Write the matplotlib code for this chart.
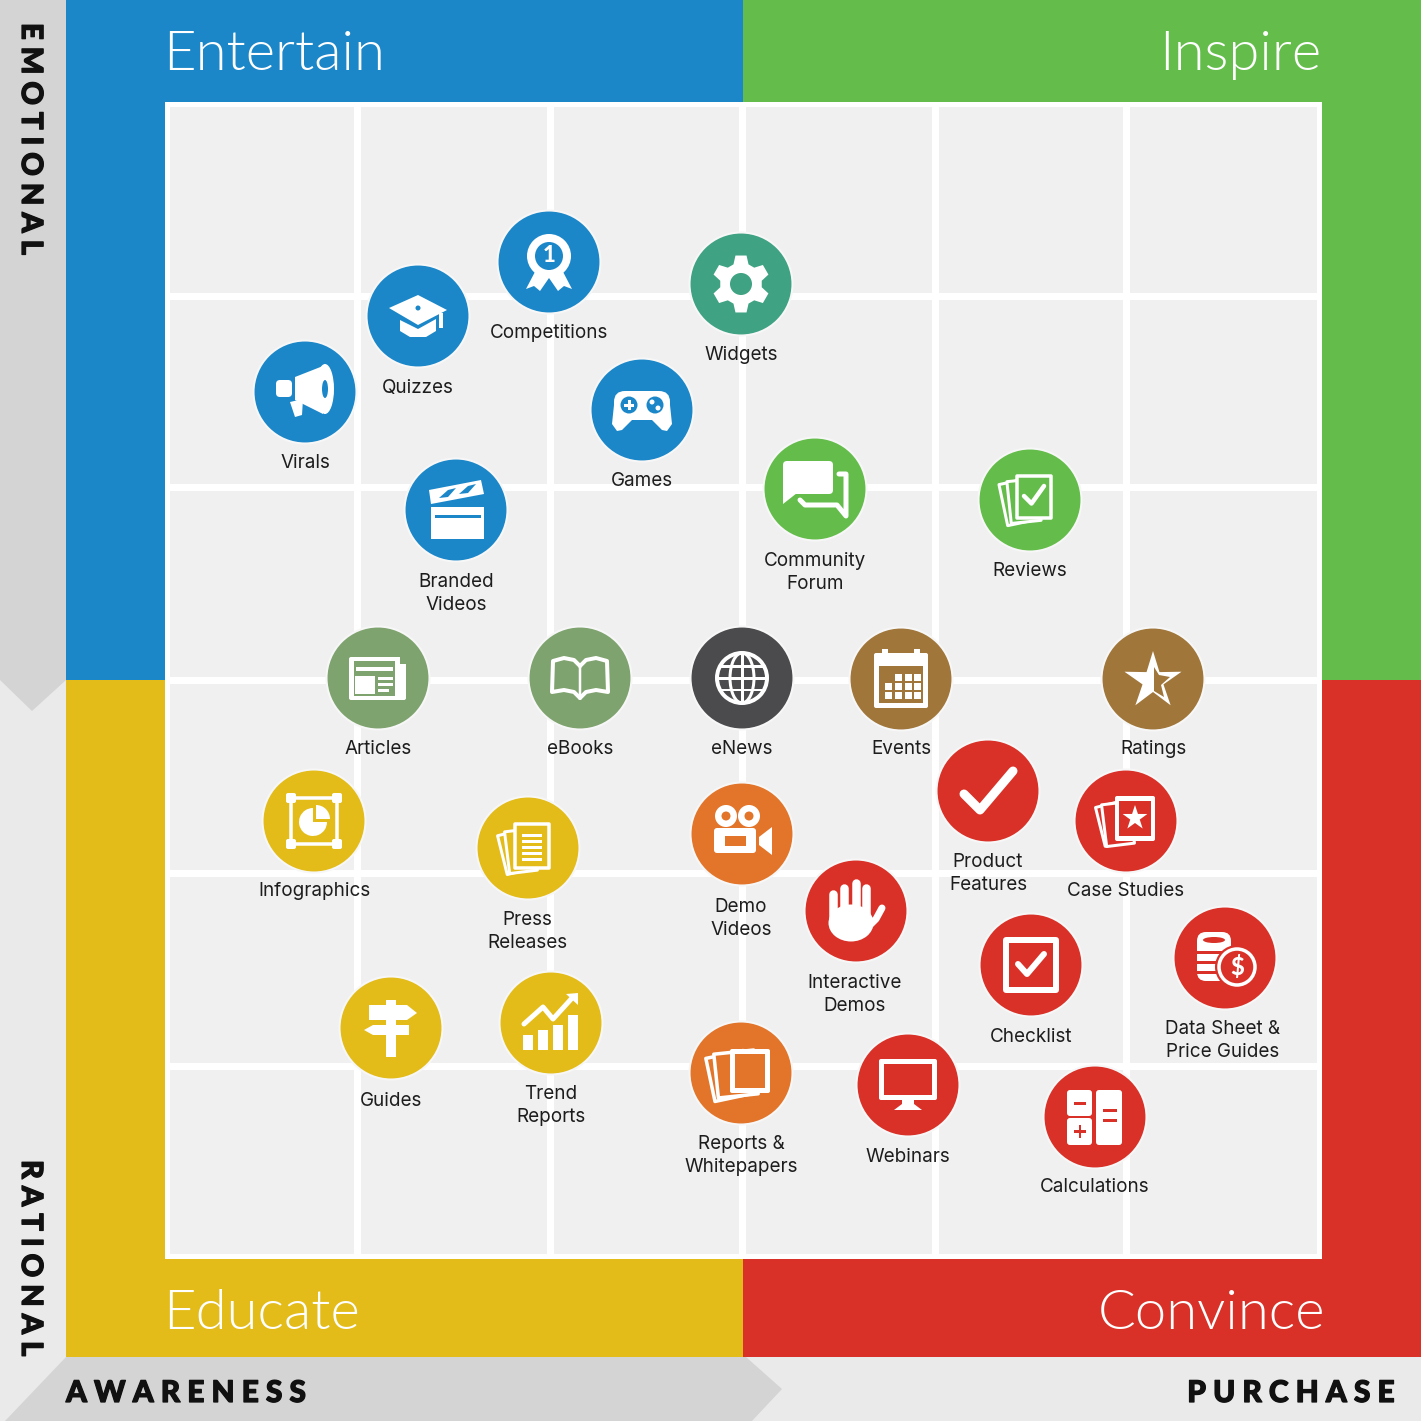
import numpy as np
import matplotlib
matplotlib.use("Agg")
import matplotlib.pyplot as plt
import matplotlib.patheffects as pe
from matplotlib.patches import Circle, Polygon, Rectangle, Ellipse, FancyBboxPatch, Wedge

plt.rcParams['font.family'] = ['Lato', 'DejaVu Sans']

# ---- data ----
names = ["Virals", "Quizzes", "Competitions", "Widgets", "Games", "Branded\nVideos",
         "Community\nForum", "Reviews", "Articles", "eBooks", "eNews", "Events", "Ratings",
         "Infographics", "Press\nReleases", "Demo\nVideos", "Product\nFeatures", "Case Studies",
         "Interactive\nDemos", "Checklist", "Data Sheet &\nPrice Guides", "Guides",
         "Trend\nReports", "Reports &\nWhitepapers", "Webinars", "Calculations"]
awareness_x = [305, 418, 549, 741, 642, 456, 815, 1030, 378, 580, 742, 901, 1153,
               314, 528, 742, 988, 1126, 856, 1031, 1225, 391, 551, 741, 908, 1095]
emotion_y = [392, 316, 262, 284, 410, 510, 489, 500, 678, 678, 678, 679, 679,
             821, 848, 834, 791, 821, 911, 965, 958, 1028, 1023, 1073, 1085, 1117]
label_x = [305, 418, 549, 741, 642, 456, 815, 1030, 378, 580, 742, 901, 1153,
           314, 527, 741, 988, 1126, 855, 1031, 1223, 391, 551, 741, 908, 1095]
label_y = [461, 386, 332, 353, 479, 592, 571, 569, 747, 747, 747, 747, 747,
           890, 930, 917, 872, 890, 993, 1036, 1039, 1099, 1104, 1154, 1155, 1185]
groups = ["blue", "blue", "blue", "teal", "blue", "blue", "green", "green", "olive", "olive", "dark",
          "brown", "brown", "yellow", "yellow", "orange", "red", "red", "red", "red", "red",
          "yellow", "yellow", "orange", "red", "red"]
palette = dict(blue="#1b87c9", teal="#3fa283", green="#64bd4a", olive="#7fa36f", dark="#4b4b4d",
               brown="#a0763a", yellow="#e3bc19", orange="#e2752a", red="#d93128")
quadrants = ["Entertain", "Inspire", "Educate", "Convince"]
grid_x = [357, 550, 742, 935, 1126]
grid_y = [296, 487, 680, 873, 1066]

W = "white"
fig = plt.figure(figsize=(14.21, 14.21), dpi=100)
ax = fig.add_axes([0, 0, 1, 1])
ax.set_xlim(0, 1421)
ax.set_ylim(1421, 0)
ax.axis("off")
px = 0.72


def rect(x0, y0, x1, y1, c=W, **k):
    ax.add_patch(Rectangle((x0, y0), x1 - x0, y1 - y0, fc=c, ec="none", **k))


def poly(pts, c=W):
    ax.add_patch(Polygon(pts, closed=True, fc=c, ec="none"))


# ---- background ----
rect(0, 0, 1421, 1421, "#eaeaea")
poly([(0, 0), (66, 0), (66, 680), (32, 711), (0, 680)], "#d4d4d4")
poly([(66, 1357), (746, 1357), (782, 1389), (752, 1421), (5, 1421)], "#d4d4d4")
rect(66, 0, 743, 680, palette["blue"])
rect(743, 0, 1421, 680, palette["green"])
rect(66, 680, 743, 1357, palette["yellow"])
rect(743, 680, 1421, 1357, palette["red"])
rect(165, 102, 1322, 1259, W)
rect(170, 107, 1317, 1254, "#f0f0f0")
for g in grid_x:
    rect(g - 3.5, 105, g + 3.5, 1256, W)
for g in grid_y:
    rect(168, g - 3.5, 1319, g + 3.5, W)

# ---- text frame ----
title_kw = dict(color=W, fontsize=40.5, fontweight=300, va="center")
ax.text(163, 55, quadrants[0], ha="left", **title_kw)
ax.text(1321, 55, quadrants[1], ha="right", **title_kw)
ax.text(163, 1314, quadrants[2], ha="left", **title_kw)
ax.text(1325, 1314, quadrants[3], ha="right", **title_kw)
bold = [pe.withStroke(linewidth=0.9, foreground="#111111")]
side = dict(color="#111111", fontweight="black", path_effects=bold)
ax.text(66, 1393, "A W A R E N E S S", ha="left", va="center", fontsize=21.5, **side)
ax.text(1395, 1393, "P U R C H A S E", ha="right", va="center", fontsize=21.5, **side)
ax.text(30, 23, "E M O T I O N A L", rotation=270, ha="center", va="top", fontsize=21, **side)
ax.text(30, 1160, "R A T I O N A L", rotation=270, ha="center", va="top", fontsize=21, **side)


# ---- icon helpers (local coordinates around bubble centre) ----
class I:
    def __init__(s, x, y, c):
        s.x, s.y, s.c = x, y, c

    def t(s, pts):
        return [(s.x + a, s.y + b) for a, b in pts]

    def p(s, pts, c=W):
        poly(s.t(pts), c)

    def l(s, pts, w=3, c=W, closed=False):
        ax.add_patch(Polygon(s.t(pts), closed=closed, fill=False, ec=c, lw=w * px,
                             joinstyle="round", capstyle="round"))

    def r(s, x0, y0, x1, y1, c=W):
        rect(s.x + x0, s.y + y0, s.x + x1, s.y + y1, c)

    def rr(s, x0, y0, x1, y1, rad=3, c=W, ec="none", w=0):
        ax.add_patch(FancyBboxPatch((s.x + x0 + rad, s.y + y0 + rad), x1 - x0 - 2 * rad, y1 - y0 - 2 * rad,
                                    boxstyle=f"round,pad={rad}", fc=c, ec=ec, lw=w * px))

    def o(s, a, b, r_, c=W):
        ax.add_patch(Circle((s.x + a, s.y + b), r_, fc=c, ec="none"))

    def ring(s, a, b, r_, w=3, c=W):
        ax.add_patch(Circle((s.x + a, s.y + b), r_, fill=False, ec=c, lw=w * px))

    def e(s, a, b, rx, ry, c=W, ec="none", w=0, fill=True):
        ax.add_patch(Ellipse((s.x + a, s.y + b), 2 * rx, 2 * ry, fc=c if fill else "none", ec=ec, lw=w * px))

    def card(s, a, b, hw, hh, deg, fc, w=3):
        th = np.radians(deg)
        R = np.array([[np.cos(th), -np.sin(th)], [np.sin(th), np.cos(th)]])
        pts = (R @ np.array([[-hw, -hh], [hw, -hh], [hw, hh], [-hw, hh]]).T).T + [a, b]
        ax.add_patch(Polygon(s.t(pts.tolist()), closed=True, fc=fc, ec=W, lw=w * px, joinstyle="round"))

    def star(s, a, b, R1, R2, c=W):
        ang = np.radians(np.arange(10) * 36 - 90)
        rad = np.where(np.arange(10) % 2 == 0, R1, R2)
        s.p(list(zip(a + rad * np.cos(ang), b + rad * np.sin(ang))), c)


def virals(i):
    i.rr(-29, -12, -13, 5, 4)
    i.p([(-10, -15), (18, -26), (18, 22), (-10, 8)])
    i.e(20, -3, 9, 25)
    i.e(20, -3, 3, 9, i.c)
    i.p([(-15, 10), (-2, 7), (-3, 23), (-10, 25)])


def quizzes(i):
    i.p([(-29, -8), (0, -21), (29, -6), (0, 9)])
    i.o(0, -8, 2.5, i.c)
    i.p([(-18, 4), (0, 13), (18, 3), (18, 15), (8, 21), (-8, 21), (-18, 15)])
    i.r(21, -3, 25, 12)


def competitions(i):
    i.p([(-12, 6), (-23, 27), (-15, 24), (-9, 29), (0, 16), (9, 29), (15, 24), (23, 27), (12, 6)])
    i.o(0, -6, 22)
    i.o(0, -6, 14, i.c)
    ax.text(i.x, i.y - 6, "1", color=W, fontsize=16, fontweight="black", ha="center", va="center")


def widgets(i):
    pts = []
    for k in range(6):
        m = -90 + 60 * k
        for d, rad in ((-21, 21), (-11, 29), (11, 29), (21, 21)):
            a = np.radians(m + d)
            pts.append((rad * np.cos(a), rad * np.sin(a)))
    i.p(pts)
    i.o(0, 0, 11, i.c)


def games(i):
    i.rr(-28, -19, 28, 8, 11)
    i.p([(-28, -5), (-30, 14), (-25, 21), (-20, 20), (-10, 10), (10, 10), (20, 20), (25, 21), (30, 14), (28, -5)])
    for a in (-13, 13):
        i.o(a, -5, 8.5, i.c)
    i.r(-18, -6.5, -8, -3.5)
    i.r(-14.5, -10, -11.5, 0)
    i.o(10, -8, 2.5)
    i.o(16, -2, 2.5)


def branded(i):
    i.p([(-27, -20), (25, -30), (28, -16), (-25, -6)])
    for a, b in ((-17, -12), (3, -16)):
        i.p([(a, b), (a + 9, b - 8), (a + 17, b - 10), (a + 9, b - 1)], i.c)
    i.r(-25, -3, 28, 29)
    i.r(-21, 5, 25, 8, i.c)


def community(i):
    i.l([(24, -15), (31, -15), (31, 27), (22, 16), (-10, 16), (-15, 11)], 5)
    i.rr(-32, -28, 18, 5, 4)
    i.p([(-32, 0), (-32, 15), (-18, 4)])


def check(i, a, b, k, w):
    i.l([(a - k, b), (a - k * .25, b + k * .75), (a + k, b - k)], w)


def reviews(i):
    i.card(-12, 2, 15, 21, -12, i.c)
    i.card(-6, 1, 15, 21, -6, i.c)
    i.card(4, -3, 17, 21, 0, i.c, 3.5)
    check(i, 4, -4, 10, 4.5)


def articles(i):
    i.rr(-29, -21, 28, 22, 2)
    i.r(22, -22, 29, -14, i.c)
    i.r(-24, -17, 17, 18, i.c)
    i.r(-22, -11, 15, -7)
    i.r(-23, -2, -3, 16)
    i.r(0, -1, 15, 2)
    i.r(0, 5, 15, 8)
    i.r(0, 11, 11, 14)


def ebooks(i):
    i.l([(0, -12), (-6, -18), (-16, -20), (-27, -17), (-28, 14), (-16, 12), (-6, 14), (0, 20)], 4)
    i.l([(0, -12), (6, -18), (16, -20), (27, -17), (28, 14), (16, 12), (6, 14), (0, 20)], 4)
    i.l([(0, -12), (0, 20)], 2.5)


def enews(i):
    i.ring(0, 0, 25, 4)
    i.e(0, 0, 12, 25, ec=W, w=3, fill=False)
    i.r(-1.5, -25, 1.5, 25)
    i.r(-25, -1.5, 25, 1.5)
    i.r(-22, -13, 22, -10.5)
    i.r(-22, 10.5, 22, 13)


def events(i):
    i.rr(-27, -26, 27, 29, 2)
    i.r(-22, -13, 22, 24, i.c)
    i.r(-19, -30, -13, -20)
    i.r(13, -30, 19, -20)
    for a in (-16, -6, 4, 13):
        for b in (-5, 4, 13):
            if not (a == -16 and b == -5):
                i.r(a, b, a + 6.5, b + 6.5)


def ratings(i):
    i.star(0, 2, 30, 11)
    i.p([(1, -12), (1, 12), (11, 18), (8, 6), (17, -2), (6, -4)], i.c)


def infographics(i):
    i.l([(-23, -23), (23, -23), (23, 23), (-23, 23)], 3.5, closed=True)
    for a in (-23, 23):
        for b in (-23, 23):
            i.rr(a - 5, b - 5, a + 5, b + 5, 2)
    ax.add_patch(Wedge((i.x - 1, i.y + 1), 14, 0, 270, fc=W, ec="none"))
    ax.add_patch(Wedge((i.x + 2, i.y - 2), 14, 270, 360, fc=W, ec="none"))


def press(i):
    i.card(-13, 4, 13, 20, -14, i.c)
    i.card(-7, 3, 14, 21, -7, i.c)
    i.card(4, -2, 17, 22, 0, i.c, 3.5)
    for b in (-14, -8, -2, 4, 10):
        i.r(-6, b, 14, b + 2.5)


def demo(i):
    i.rr(-28, -6, 14, 19, 3)
    i.o(-16, -18, 11)
    i.o(7, -18, 11)
    i.o(-16, -18, 4.5, i.c)
    i.o(7, -18, 4.5, i.c)
    i.p([(17, 3), (30, -7), (30, 21), (17, 11)])
    i.r(-17, 2, 4, 12, i.c)


def product(i):
    i.l([(-24, 3), (-8, 19), (25, -20)], 9)


def cases(i):
    i.card(-14, 3, 12, 20, -14, i.c)
    i.card(-8, 3, 14, 21, -7, i.c)
    i.rr(-11, -25, 29, 20, 2)
    i.r(-7, -20, 25, 15, i.c)
    i.star(9, -3, 13, 5)


def interactive(i):
    for a, top in ((-23, -17), (-12, -23), (0, -28), (10, -23)):
        i.l([(a, top), (a, 8)], 8.5)
    i.e(-5, 12, 22.5, 18.5)
    i.l([(14, 14), (20, 8), (26, -3)], 7)


def checklist(i):
    i.l([(-25, -25), (25, -25), (25, 25), (-25, 25)], 6, closed=True)
    i.l([(-13, -1), (-4, 9), (13, -11)], 6)


def datasheet(i):
    i.rr(-28, -26, 6, 23, 9)
    i.e(-11, -18, 11, 3, i.c)
    for b in (-7, 3, 13):
        i.r(-28, b, 6, b + 2.5, i.c)
    i.o(12, 9, 22, i.c)
    i.ring(12, 9, 18, 3.5)
    ax.text(i.x + 12, i.y + 9, "$", color=W, fontsize=17, fontweight="black", ha="center", va="center")


def guides(i):
    i.r(-5, -28, 5, 29)
    i.p([(-22, -23), (16, -23), (26, -15), (16, -8), (-22, -8)])
    i.p([(18, -3), (-18, -3), (-27, 2), (-18, 7), (18, 7)])


def trend(i):
    for a, top in ((-28, 12), (-13, 7), (2, 2), (17, -8)):
        i.r(a, top, a + 10, 27)
    i.l([(-27, 1), (-8, -16), (2, -4), (22, -26)], 5)
    i.p([(15, -29), (27, -30), (27, -18)])


def reports(i):
    i.card(-12, 3, 19, 22, -12, i.c, 3.5)
    i.card(-5, 1, 20, 22, -6, i.c, 3.5)
    i.rr(-11, -24, 29, 20, 2)
    i.r(-6, -19, 24, 15, i.c)


def webinars(i):
    i.rr(-29, -26, 29, 15, 2)
    i.r(-24, -21, 24, 10, i.c)
    i.r(-6, 15, 6, 21)
    i.p([(-6, 19), (6, 19), (14, 25), (-14, 25)])


def calculations(i):
    i.rr(-28, -27, -3, -1, 3)
    i.rr(-28, 1, -3, 28, 3)
    i.rr(1, -27, 27, 28, 3)
    i.r(-21, -15, -9, -12.5, i.c)
    i.r(-21, 13, -9, 15.5, i.c)
    i.r(-16.5, 8, -14, 21, i.c)
    i.r(8, -8, 22, -5.5, i.c)
    i.r(8, 2, 22, 4.5, i.c)


icons = [virals, quizzes, competitions, widgets, games, branded, community, reviews, articles, ebooks,
         enews, events, ratings, infographics, press, demo, product, cases, interactive, checklist,
         datasheet, guides, trend, reports, webinars, calculations]

# ---- bubbles ----
for fn, x, y, g, nm, lx, ly in zip(icons, awareness_x, emotion_y, groups, names, label_x, label_y):
    col = palette[g]
    ax.add_patch(Circle((x, y), 51.5, fc=col, ec="#f7f7f7", lw=1.5))
    fn(I(x, y, col))
    ax.text(lx, ly + 1.5, nm, ha="center", va="center", ma="center", fontsize=13.6, color="#1d1d1d",
            linespacing=1.38, family=["Inter", "Lato", "DejaVu Sans"])

fig.savefig("out.png", dpi=100)
